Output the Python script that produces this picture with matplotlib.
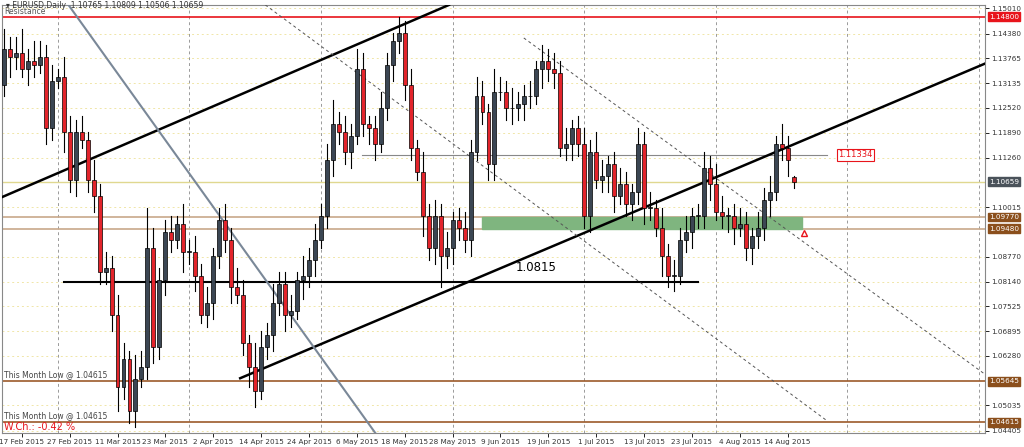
import matplotlib
matplotlib.use("Agg")
import matplotlib.pyplot as plt
from matplotlib.patches import Rectangle
import pandas as pd

closes = [1.132,1.133,1.131,1.140,1.138,
          1.139,1.135,1.137,1.136,1.138,
          1.120,1.132,1.133,1.119,1.107,
          1.119,1.117,1.107,1.103,1.084,
          1.085,1.073,1.055,1.062,1.049,
          1.057,1.060,1.090,1.065,1.082,
          1.094,1.092,1.096,1.089,1.089,
          1.083,1.073,1.076,1.088,1.097,
          1.092,1.080,1.078,1.066,1.060,
          1.054,1.065,1.068,1.076,1.081,
          1.073,1.074,1.082,1.083,1.087,
          1.092,1.098,1.112,1.121,1.119,
          1.114,1.118,1.135,1.121,1.120,
          1.116,1.125,1.136,1.142,1.144,
          1.131,1.115,1.109,1.098,1.090,
          1.098,1.088,1.090,1.097,1.095,
          1.092,1.114,1.128,1.124,1.111,
          1.129,1.129,1.125,1.125,1.126,
          1.128,1.128,1.135,1.137,1.135,
          1.134,1.115,1.116,1.120,1.116,
          1.098,1.114,1.107,1.108,1.111,
          1.103,1.106,1.101,1.104,1.116,
          1.100,1.100,1.095,1.088,1.083,
          1.083,1.092,1.094,1.098,1.098,
          1.110,1.106,1.099,1.098,1.098,
          1.095,1.096,1.090,1.093,1.095,
          1.102,1.104,1.116,1.115,1.112,
          1.10659]
opens = [1.134] + closes[:-1]
opens[-1] = 1.10765
wick_up = [0.003,0.004,0.002,0.005,0.003, 0.004,0.006,0.003,0.005,0.004,
           0.003,0.004,0.002,0.005,0.004, 0.003,0.004,0.002,0.005,0.003,
           0.004,0.003,0.005,0.004,0.002, 0.006,0.004,0.010,0.005,0.003,
           0.003,0.004,0.002,0.005,0.003, 0.004,0.003,0.004,0.002,0.003,
           0.004,0.003,0.005,0.004,0.002, 0.006,0.004,0.003,0.005,0.003,
           0.003,0.004,0.002,0.005,0.003, 0.004,0.003,0.004,0.006,0.003,
           0.004,0.003,0.005,0.004,0.002, 0.003,0.004,0.003,0.002,0.004,
           0.003,0.004,0.002,0.005,0.003, 0.004,0.003,0.004,0.002,0.003,
           0.004,0.003,0.005,0.004,0.002, 0.006,0.004,0.003,0.005,0.003,
           0.003,0.004,0.002,0.004,0.003, 0.004,0.003,0.004,0.002,0.003,
           0.004,0.003,0.005,0.004,0.002, 0.003,0.004,0.003,0.002,0.004,
           0.003,0.004,0.002,0.005,0.003, 0.004,0.003,0.004,0.002,0.003,
           0.004,0.003,0.005,0.004,0.002, 0.003,0.004,0.003,0.002,0.004,
           0.003,0.004,0.002,0.005,0.003, 0.00044]
wick_dn = [0.003,0.002,0.004,0.003,0.005, 0.003,0.002,0.004,0.003,0.002,
           0.004,0.003,0.002,0.005,0.003, 0.004,0.002,0.003,0.004,0.003,
           0.003,0.004,0.006,0.003,0.003, 0.004,0.002,0.003,0.004,0.003,
           0.004,0.003,0.002,0.005,0.003, 0.004,0.002,0.003,0.004,0.003,
           0.003,0.004,0.002,0.003,0.005, 0.004,0.002,0.003,0.004,0.003,
           0.004,0.003,0.002,0.005,0.003, 0.004,0.002,0.003,0.004,0.003,
           0.003,0.004,0.002,0.003,0.004, 0.004,0.002,0.003,0.004,0.003,
           0.004,0.003,0.002,0.005,0.003, 0.004,0.008,0.003,0.004,0.003,
           0.003,0.004,0.002,0.003,0.004, 0.004,0.002,0.003,0.004,0.003,
           0.004,0.003,0.002,0.005,0.003, 0.004,0.002,0.003,0.004,0.003,
           0.003,0.004,0.002,0.003,0.004, 0.004,0.002,0.003,0.004,0.003,
           0.004,0.003,0.002,0.005,0.003, 0.004,0.002,0.003,0.004,0.003,
           0.003,0.004,0.002,0.003,0.004, 0.004,0.002,0.003,0.004,0.003,
           0.003,0.004,0.002,0.003,0.004, 0.00153]

dates = pd.bdate_range("2015-02-09", periods=len(closes))
xlabels = ["17 Feb 2015","27 Feb 2015","11 Mar 2015","23 Mar 2015","2 Apr 2015","14 Apr 2015",
           "24 Apr 2015","6 May 2015","18 May 2015","28 May 2015","9 Jun 2015","19 Jun 2015",
           "1 Jul 2015","13 Jul 2015","23 Jul 2015","4 Aug 2015","14 Aug 2015"]
yticks = [1.15010,1.14380,1.13765,1.13135,1.12520,1.11890,1.11260,1.10015,1.08770,
          1.08140,1.07525,1.06895,1.06280,1.05035,1.04405]
boxes = [(1.14800,"#e8141b"),(1.10659,"#4a525a"),(1.09770,"#8b4f1c"),(1.09480,"#8b4f1c"),
         (1.05645,"#8b4f1c"),(1.04615,"#8b4f1c")]

fig = plt.figure(figsize=(10.24,4.47), dpi=100)
ax = fig.add_axes([0.002, 0.031, 0.960, 0.958])
ax.set_xlim(2.7, 167)
ax.set_ylim(1.0434, 1.1510)

for t in yticks:
    ax.axhline(t, color="#f0e6a8", lw=0.7, ls=(0,(2,3)), zorder=0)
for gx in [12,34,56,78,100,122,144,166]:
    ax.axvline(gx, color="#9a9a9a", lw=0.7, ls=(0,(3,3)), zorder=0)

ax.axhline(1.14800, color="#e8141b", lw=1.2, zorder=1)
ax.axhline(1.10659, color="#e0d890", lw=1.0, zorder=1)
ax.axhline(1.09770, color="#c8a88a", lw=1.2, zorder=1)
ax.axhline(1.09480, color="#c8a88a", lw=1.2, zorder=1)
ax.axhline(1.05645, color="#9c5a2a", lw=1.2, zorder=1)
ax.axhline(1.04615, color="#9c5a2a", lw=1.2, zorder=1)
ax.add_patch(Rectangle((82.9, 1.0948), 136.4-82.9, 1.0977-1.0948, color="#7fb57f", zorder=1))
ax.plot([13,119],[1.0815,1.0815], color="black", lw=1.5, zorder=2)
ax.text(92, 1.0835, "1.0815", fontsize=8.5, ha="center", va="bottom")
ax.plot([62.8,140.5],[1.1133,1.1133], color="#888888", lw=0.8, zorder=1)
ax.text(142.5, 1.1133, "1.11334", fontsize=6, color="#e8141b", va="center",
        bbox=dict(boxstyle="square,pad=0.15", fc="white", ec="#e8141b", lw=0.8))

ax.plot([2.68,77.4],[1.1027,1.1510], color="black", lw=1.8, zorder=3)
ax.plot([42.5,168],[1.0572,1.1369], color="black", lw=1.8, zorder=3)
ax.plot([13.8,65.1],[1.1510,1.0434], color="#7a8898", lw=1.5, zorder=3)
ax.plot([46.7,140.5],[1.1510,1.0466], color="#555555", lw=0.7, ls=(0,(3,3)), zorder=3)
ax.plot([89.9,168.8],[1.1427,1.0562], color="#555555", lw=0.7, ls=(0,(3,3)), zorder=3)
ax.plot([136.7],[1.0938], marker="^", ms=5, mfc="white", mec="#e8141b", zorder=4)

for i,(o,c,wu,wd) in enumerate(zip(opens,closes,wick_up,wick_dn)):
    hi = max(o,c)+wu; lo = min(o,c)-wd
    ax.plot([i,i],[lo,hi], color="black", lw=0.8, zorder=5)
    col = "#3b4653" if c >= o else "#e3242b"
    ax.add_patch(Rectangle((i-0.33, min(o,c)), 0.66, max(abs(c-o),0.0002),
                           fc=col, ec="black", lw=0.5, zorder=6))

fig.text(0.006, 0.997, "\u25be EURUSD,Daily  1.10765 1.10809 1.10506 1.10659", fontsize=5.5, color="#333333", va="top")
ax.text(3, 1.1483, "Resistance", fontsize=5.5, color="#555555", va="bottom")
ax.text(3, 1.05695, "This Month Low @ 1.04615", fontsize=5.5, color="#444444", va="bottom")
ax.text(3, 1.04665, "This Month Low @ 1.04615", fontsize=5.5, color="#444444", va="bottom")
ax.text(3, 1.0437, "W.Ch.: -0.42 %", fontsize=7, color="#e8141b", va="bottom")

ax.yaxis.tick_right()
ax.set_yticks(yticks)
ax.set_yticklabels([f"{t:.5f}" for t in yticks], fontsize=5.2, color="#333333")
pos = [list(dates.strftime("%-d %b %Y")).index(l) for l in xlabels]
ax.set_xticks(pos)
ax.set_xticklabels(xlabels, fontsize=5.2, color="#333333")
ax.tick_params(length=3, width=0.6, pad=1.5)
for s in ax.spines.values():
    s.set_color("#888888"); s.set_linewidth(0.8)

for v,col in boxes:
    ax.text(1.004, v, f"{v:.5f}", transform=ax.get_yaxis_transform(), fontsize=5.2, color="white",
            va="center", ha="left", bbox=dict(boxstyle="square,pad=0.2", fc=col, ec=col))

fig.savefig("out.png", dpi=100)
